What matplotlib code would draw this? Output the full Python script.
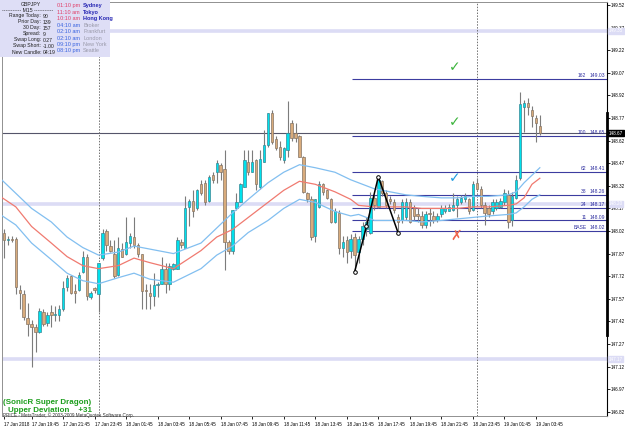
import numpy as np
import matplotlib
matplotlib.use('Agg')
import matplotlib.pyplot as plt
import matplotlib.transforms as mtransforms
from matplotlib.patches import Rectangle

plt.rcParams['font.family'] = ['Liberation Sans', 'DejaVu Sans']

#%% data - GBPJPY M15, bar 0 = 17 Jan 18:00
opens = [148.01, 147.96, 147.97, 147.97, 147.63, 147.60, 147.44, 147.40, 147.38, 147.35,
         147.48, 147.41, 147.48, 147.46, 147.46, 147.50, 147.65, 147.72, 147.62, 147.63,
         147.75, 147.85, 147.58, 147.64, 147.60, 147.84, 148.02, 147.92, 147.87, 147.73,
         147.90, 147.87, 147.94, 147.98, 147.93, 147.87, 147.63, 147.61, 147.59, 147.66,
         147.67, 147.77, 147.67, 147.77, 147.77, 147.95, 147.91, 148.18, 148.22, 148.17,
         148.33, 148.34, 148.22, 148.39, 148.41, 148.46, 148.43, 147.95, 147.89, 148.17,
         148.21, 148.31, 148.48, 148.41, 148.49, 148.31, 148.48, 148.59, 148.80, 148.63,
         148.58, 148.49, 148.56, 148.74, 148.67, 148.65, 148.51, 148.27, 148.23, 147.99,
         148.18, 148.33, 148.29, 148.23, 148.08, 148.14, 147.91, 147.96, 147.89, 147.98,
         147.88, 147.97, 148.03, 148.01, 148.24, 148.18, 148.35, 148.27, 148.23, 148.21,
         148.11, 148.09, 148.11, 148.21, 148.17, 148.13, 148.12, 148.06, 148.14, 148.12,
         148.09, 148.13, 148.15, 148.15, 148.16, 148.19, 148.21, 148.23, 148.23, 148.16,
         148.34, 148.30, 148.19, 148.17, 148.15, 148.17, 148.18, 148.21, 148.26, 148.09,
         148.24, 148.37, 148.84, 148.87, 148.82, 148.77, 148.72]
highs = [148.03, 147.99, 147.99, 147.98, 147.66, 147.63, 147.54, 147.43, 147.40, 147.51,
         147.50, 147.48, 147.53, 147.52, 147.53, 147.69, 147.73, 147.73, 147.67, 147.75,
         147.89, 147.87, 147.62, 147.65, 147.81, 148.03, 148.03, 147.96, 147.96, 147.98,
         147.94, 148.11, 148.01, 148.11, 147.94, 147.87, 147.67, 147.67, 147.74, 147.68,
         147.85, 147.81, 147.81, 147.81, 147.98, 147.97, 148.25, 148.23, 148.29, 148.30,
         148.36, 148.36, 148.39, 148.41, 148.49, 148.47, 148.56, 147.96, 148.16, 148.27,
         148.34, 148.56, 148.56, 148.56, 148.50, 148.56, 148.69, 148.80, 148.82, 148.65,
         148.62, 148.58, 148.88, 148.76, 148.74, 148.66, 148.52, 148.28, 148.25, 148.23,
         148.35, 148.34, 148.30, 148.24, 148.17, 148.16, 147.99, 147.99, 148.00, 148.01,
         147.99, 148.08, 148.11, 148.28, 148.26, 148.38, 148.36, 148.29, 148.25, 148.23,
         148.13, 148.23, 148.24, 148.23, 148.19, 148.17, 148.15, 148.15, 148.17, 148.15,
         148.14, 148.19, 148.19, 148.20, 148.27, 148.25, 148.26, 148.27, 148.24, 148.35,
         148.37, 148.32, 148.21, 148.19, 148.23, 148.23, 148.24, 148.30, 148.29, 148.28,
         148.39, 148.94, 148.89, 148.90, 148.85, 148.79, 148.79]
lows = [147.84, 147.93, 147.95, 147.60, 147.50, 147.43, 147.32, 147.12, 147.22, 147.34,
        147.39, 147.39, 147.38, 147.42, 147.42, 147.49, 147.62, 147.60, 147.54, 147.62,
        147.74, 147.56, 147.57, 147.61, 147.48, 147.83, 147.89, 147.88, 147.71, 147.72,
        147.85, 147.86, 147.91, 147.91, 147.85, 147.50, 147.50, 147.50, 147.52, 147.58,
        147.67, 147.61, 147.63, 147.76, 147.77, 147.91, 147.91, 148.05, 148.11, 148.16,
        148.26, 148.19, 148.21, 148.34, 148.34, 148.36, 147.76, 147.87, 147.87, 148.16,
        148.21, 148.31, 148.39, 148.41, 148.29, 148.30, 148.48, 148.58, 148.60, 148.56,
        148.49, 148.47, 148.51, 148.62, 148.61, 148.51, 148.27, 148.21, 147.96, 147.95,
        148.17, 148.26, 148.23, 148.07, 148.07, 147.87, 147.85, 147.81, 147.84, 147.76,
        147.81, 147.93, 147.99, 148.00, 148.16, 148.17, 148.25, 148.17, 148.20, 148.14,
        148.01, 148.07, 148.09, 148.07, 148.09, 148.08, 148.04, 148.04, 148.05, 148.07,
        148.08, 148.11, 148.14, 148.15, 148.15, 148.11, 148.20, 148.21, 148.13, 148.15,
        148.29, 148.17, 148.06, 148.11, 148.13, 148.16, 148.17, 148.19, 148.04, 148.05,
        148.23, 148.36, 148.68, 148.79, 148.71, 148.61, 148.66]
closes = [147.96, 147.97, 147.96, 147.65, 147.61, 147.45, 147.40, 147.38, 147.35, 147.49,
          147.40, 147.46, 147.46, 147.47, 147.50, 147.64, 147.71, 147.61, 147.61, 147.73,
          147.85, 147.59, 147.61, 147.63, 147.81, 148.01, 147.93, 147.89, 147.72, 147.91,
          147.85, 147.95, 147.99, 147.93, 147.87, 147.62, 147.62, 147.59, 147.66, 147.67,
          147.77, 147.67, 147.79, 147.80, 147.96, 147.93, 148.17, 148.22, 148.15, 148.29,
          148.27, 148.21, 148.38, 148.36, 148.47, 148.41, 147.95, 147.89, 148.16, 148.21,
          148.33, 148.49, 148.41, 148.48, 148.33, 148.50, 148.59, 148.80, 148.61, 148.57,
          148.51, 148.57, 148.67, 148.64, 148.64, 148.51, 148.28, 148.23, 147.98, 148.23,
          148.33, 148.28, 148.24, 148.08, 148.15, 147.91, 147.95, 147.88, 147.97, 147.86,
          147.97, 148.05, 148.08, 148.24, 148.19, 148.36, 148.27, 148.19, 148.22, 148.16,
          148.08, 148.21, 148.21, 148.08, 148.12, 148.12, 148.06, 148.13, 148.13, 148.09,
          148.12, 148.17, 148.17, 148.18, 148.19, 148.23, 148.24, 148.25, 148.15, 148.33,
          148.30, 148.19, 148.14, 148.13, 148.21, 148.21, 148.22, 148.27, 148.08, 148.25,
          148.36, 148.86, 148.87, 148.84, 148.78, 148.74, 148.67]

# SonicR dragon (ema high / close / low), every few bars
dragon_x = [-1, 3, 7, 12, 16, 20, 24, 29, 33, 37, 43, 50, 54, 58, 62, 67, 71, 75, 79, 84,
            88, 90, 94, 98, 102, 106, 111, 115, 119, 123, 128, 130, 132, 134, 136]
dragon_hi = [148.37, 148.27, 148.17, 148.08, 147.98, 147.91, 147.86, 147.88, 147.92, 147.90,
             147.87, 147.94, 148.04, 148.14, 148.23, 148.34, 148.41, 148.46, 148.44, 148.41,
             148.36, 148.34, 148.30, 148.28, 148.26, 148.25, 148.24, 148.24, 148.25, 148.25,
             148.26, 148.28, 148.34, 148.39, 148.44]
dragon_mid = [148.25, 148.18, 148.05, 147.94, 147.85, 147.79, 147.77, 147.79, 147.84, 147.81,
              147.77, 147.89, 147.98, 148.03, 148.11, 148.21, 148.29, 148.35, 148.33, 148.28,
              148.23, 148.19, 148.18, 148.18, 148.18, 148.17, 148.17, 148.17, 148.18, 148.18,
              148.19, 148.20, 148.24, 148.33, 148.37]
dragon_lo = [148.13, 148.06, 147.94, 147.83, 147.74, 147.69, 147.67, 147.71, 147.74, 147.70,
             147.68, 147.77, 147.86, 147.92, 148.01, 148.09, 148.17, 148.23, 148.21, 148.15,
             148.12, 148.13, 148.09, 148.09, 148.09, 148.08, 148.09, 148.10, 148.11, 148.12,
             148.13, 148.14, 148.18, 148.23, 148.26]

zz_x = [89, 92, 95, 100]
zz_y = [147.75, 148.05, 148.38, 148.01]

fib_names = ['162', '100', '62', '38', '24', '11', 'BASE']
fib_vals = [149.03, 148.65, 148.41, 148.26, 148.17, 148.09, 148.02]
fib_start = 88.3

hlines_lav = [149.35, 148.20, 147.17]
bid = 148.67

sig_x = [114.5, 114.5, 114.5, 114.7]
sig_y = [149.11, 148.74, 148.37, 147.99]
sig_txt = ['\u2713', '\u2713', '\u2713', '\u2717']
sig_col = ['#3cb43c', '#3cb43c', '#1e9be0', '#f0644b']

time_idx = [0, 7, 15, 23, 31, 39, 47, 55, 63, 71, 79, 87, 95, 103, 111, 119, 127, 135]
time_lab = ['17 Jan 2018', '17 Jan 19:45', '17 Jan 21:45', '17 Jan 23:45', '18 Jan 01:45',
            '18 Jan 03:45', '18 Jan 05:45', '18 Jan 07:45', '18 Jan 09:45', '18 Jan 11:45',
            '18 Jan 13:45', '18 Jan 15:45', '18 Jan 17:45', '18 Jan 19:45', '18 Jan 21:45',
            '18 Jan 23:45', '19 Jan 01:45', '19 Jan 03:45']
day_sep = [24, 120]

price_ticks = [149.52 - 0.15 * k for k in range(19)]

#%% figure
W, H = 625, 429
fig = plt.figure(figsize=(W / 100, H / 100), dpi=100)
fig.patch.set_facecolor('white')
ax = fig.add_axes([2 / W, 1 - 416 / H, 605 / W, 414 / H])
ax.set_xlim(-0.51, 153.05)
ax.set_ylim(146.792, 149.540)

# background horizontal lines
for v in hlines_lav:
    ax.axhline(v, color='#dcdcf5', lw=2.6, zorder=1)
ax.axhline(bid, color='#55556a', lw=0.8, zorder=1)
for d in day_sep:
    ax.axvline(d, color='#707070', lw=0.7, ls=(0, (1.5, 1.5)), zorder=1)

# fibo levels
ax.hlines(fib_vals, fib_start, 153.05, color='#3c3ca0', lw=0.8, zorder=2)
for n, v in zip(fib_names, fib_vals):
    ax.text(147.8, v + 0.006, n, ha='right', va='bottom', fontsize=3.6, color='#3030a0')
    ax.text(152.6, v + 0.006, '%.2f' % v, ha='right', va='bottom', fontsize=3.6,
            color='#3030a0')

# candles
x = np.arange(len(opens))
o = np.array(opens); h = np.array(highs); l = np.array(lows); c = np.array(closes)
ax.vlines(x, l, h, color='#7c7c7c', lw=0.8, zorder=3)
up = c >= o
dn = ~up
ax.bar(x[up], (c - o)[up], bottom=o[up], width=0.62, color='#00e1ec',
       edgecolor='#3a8794', lw=0.5, zorder=4)
ax.bar(x[dn], (c - o)[dn], bottom=o[dn], width=0.62, color='#d8ab7c',
       edgecolor='#857565', lw=0.5, zorder=4)

# dragon
ax.plot(dragon_x, dragon_hi, color='#82bff0', lw=0.9, zorder=5)
ax.plot(dragon_x, dragon_mid, color='#f07a70', lw=0.9, zorder=5)
ax.plot(dragon_x, dragon_lo, color='#82bff0', lw=0.9, zorder=5)

# zigzag
ax.plot(zz_x, zz_y, color='black', lw=1.1, marker='o', ms=2.6, mfc='white',
        mec='black', mew=0.7, zorder=6)

# signal arrows
for sx, sy, st, sc in zip(sig_x, sig_y, sig_txt, sig_col):
    ax.text(sx, sy, st, ha='center', va='center', fontsize=10, color=sc,
            family='DejaVu Sans', zorder=7)

# axes look
for s in ['left', 'top', 'bottom']:
    ax.spines[s].set_color('#909090')
    ax.spines[s].set_linewidth(0.7)
ax.spines['right'].set_color('black')
ax.spines['right'].set_linewidth(0.8)

ax.yaxis.tick_right()
ax.set_yticks(price_ticks)
ax.set_yticklabels(['%.2f' % p for p in price_ticks])
ax.tick_params(axis='y', length=2.0, width=0.6, pad=0.8, labelsize=3.3, colors='black')
ax.set_xticks(time_idx)
ax.set_xticklabels(time_lab, ha='left')
ax.tick_params(axis='x', length=2.5, width=0.6, pad=1.5, labelsize=3.3)

# thick range bar on price scale
trans = mtransforms.blended_transform_factory(ax.transAxes, ax.transData)
ax.plot([1, 1], [147.33, 148.80], transform=trans, color='black', lw=2.0,
        clip_on=False, zorder=8)

# price labels on axis
ax.text(1.003, bid, '%.2f' % bid, transform=trans, ha='left', va='center', fontsize=3.3,
        color='white', bbox=dict(boxstyle='square,pad=0.12', fc='black', ec='black'))
for v in hlines_lav:
    ax.text(1.003, v, '%.2f' % v, transform=trans, ha='left', va='center', fontsize=3.3,
            color='white', bbox=dict(boxstyle='square,pad=0.12', fc='#dcdcf5', ec='#dcdcf5'))

#%% info panel top left
def px(xp, yp):
    return xp / W, 1 - yp / H

fig.patches.append(Rectangle(px(0, 57), 110 / W, 57 / H, transform=fig.transFigure,
                             fc='#dedef6', ec='none', zorder=10))

info_left = [('Range Today:', '90'), ('Prior Day:', '139'), ('30 Day:', '157'),
             ('Spread:', '9'), ('Swap Long:', '0.27'), ('Swap Short:', '-1.00'),
             ('New Candle:', '04:19')]
info_times = ['01:10 pm', '11:10 am', '10:10 am', '04:10 am', '02:10 am', '02:10 am',
              '09:10 pm', '08:10 pm']
info_city = ['Sydney', 'Tokyo', 'Hong Kong', 'Broker', 'Frankfurt', 'London',
             'New York', 'Seattle']

fs = 3.7
fig.text(*px(31, 5), 'GBPJPY', ha='center', va='center', fontsize=fs, color='#202020',
         zorder=11)
fig.text(*px(28, 10.5), '----------- M15 -----------', ha='center', va='center',
         fontsize=fs, color='#202020', zorder=11)
for k, (a, b) in enumerate(info_left):
    yy = 16 + k * 6
    fig.text(*px(41, yy), a, ha='right', va='center', fontsize=fs, color='#202020',
             zorder=11)
    fig.text(*px(43, yy), b, ha='left', va='center', fontsize=fs, color='#202020',
             zorder=11)
for k, (t, cty) in enumerate(zip(info_times, info_city)):
    yy = 6 + k * 6.4
    if k < 3:
        tc, cc, w = '#e0406a', '#2828b4', 'bold'
    else:
        tc, cc, w = '#3a64e0', '#9a9aaa', 'normal'
    fig.text(*px(80, yy), t, ha='right', va='center', fontsize=fs + 0.3, color=tc,
             zorder=11)
    fig.text(*px(83, yy), cty, ha='left', va='center', fontsize=fs + 0.3, color=cc,
             fontweight=w, zorder=11)

#%% bottom left texts
fig.text(*px(3, 403), '(SonicR Super Dragon)', ha='left', va='center', fontsize=5.8,
         color='#1e9e1e', fontweight='bold', zorder=11)
fig.text(*px(8, 410.5), 'Upper Deviation    +31', ha='left', va='center', fontsize=5.8,
         color='#1e9e1e', fontweight='bold', zorder=11)
fig.text(*px(3, 415.5), 'PRICE - MetaTrader, \u00a9 2003-2009 MetaQuotes Software Corp.',
         ha='left', va='center', fontsize=3.3, color='#303030', zorder=11)

fig.savefig('out.png', dpi=100)
